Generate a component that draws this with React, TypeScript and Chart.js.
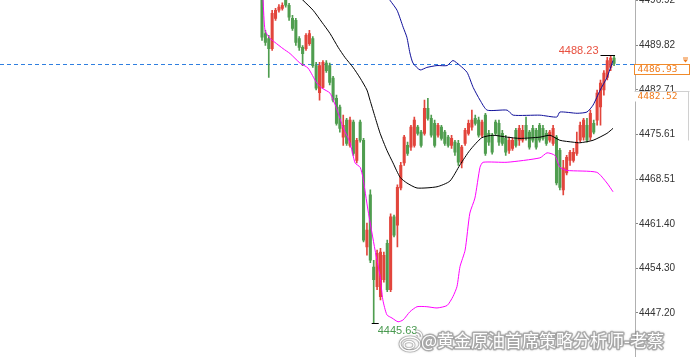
import React, { useEffect, useRef } from 'react';
import { Chart, registerables } from 'chart.js';

Chart.register(...registerables);

// ---- Candles (index 0..104) ----
const OPEN = [
  4497.8, 4491.7, 4490.9, 4489.3, 4494.1, 4495.4, 4495.7, 4497.0, 4496.2, 4494.1,
  4493.8, 4490.9, 4489.5, 4489.3, 4490.1, 4490.9, 4486.6, 4482.3, 4483.1, 4487.0,
  4486.6, 4484.6, 4481.4, 4480.0, 4475.2, 4477.9, 4473.9, 4477.6, 4471.5, 4477.6,
  4474.7, 4457.7, 4466.0, 4454.5, 4451.4, 4449.8, 4452.5, 4458.3, 4450.9, 4462.5,
  4461.2, 4467.1, 4471.1, 4473.9, 4473.6, 4473.9, 4476.8, 4476.0, 4475.8, 4479.8,
  4478.2, 4477.4, 4475.5, 4476.8, 4476.0, 4475.2, 4473.9, 4474.4, 4474.2, 4471.1,
  4474.2, 4475.8, 4476.8, 4478.2, 4477.9, 4475.5, 4478.7, 4475.8, 4475.5, 4477.6,
  4477.4, 4475.8, 4475.0, 4473.1, 4473.4, 4476.3, 4474.7, 4474.7, 4477.1, 4476.0,
  4476.6, 4476.3, 4477.1, 4476.6, 4475.8, 4474.7, 4474.2, 4475.2, 4473.1, 4466.8,
  4469.5, 4471.5, 4471.5, 4472.6, 4474.7, 4475.2, 4477.1, 4475.2, 4477.4, 4477.9,
  4480.0, 4482.7, 4484.7, 4486.3, 4487.8,
];
const HIGH = [
  4498.6, 4492.2, 4491.4, 4495.4, 4495.7, 4496.3, 4496.6, 4497.4, 4496.5, 4494.6,
  4494.1, 4491.2, 4489.8, 4491.7, 4492.2, 4491.2, 4487.1, 4487.1, 4487.4, 4487.4,
  4487.0, 4484.9, 4481.9, 4480.3, 4478.7, 4478.2, 4478.4, 4477.9, 4475.0, 4477.9,
  4475.0, 4461.5, 4466.8, 4455.6, 4457.2, 4457.5, 4456.9, 4458.8, 4463.0, 4462.8,
  4467.6, 4471.2, 4475.5, 4474.4, 4477.1, 4478.4, 4477.1, 4476.3, 4481.1, 4481.4,
  4478.7, 4477.9, 4477.4, 4477.1, 4476.3, 4475.5, 4475.5, 4474.7, 4474.7, 4473.9,
  4476.6, 4477.9, 4479.5, 4478.7, 4478.4, 4477.9, 4479.0, 4476.3, 4475.8, 4477.9,
  4477.9, 4476.3, 4475.5, 4475.2, 4475.0, 4476.6, 4477.1, 4477.1, 4478.4, 4476.3,
  4477.1, 4476.6, 4477.4, 4477.1, 4476.3, 4476.3, 4477.1, 4475.5, 4473.4, 4471.5,
  4472.3, 4473.1, 4473.4, 4476.0, 4477.6, 4478.2, 4478.2, 4479.5, 4477.9, 4482.7,
  4484.3, 4485.8, 4487.9, 4488.23, 4488.2,
];
const LOW = [
  4490.6, 4489.8, 4484.7, 4489.0, 4493.8, 4495.1, 4495.4, 4495.9, 4493.8, 4492.2,
  4489.8, 4489.0, 4486.6, 4489.0, 4489.8, 4486.3, 4482.7, 4481.1, 4483.0, 4485.5,
  4483.5, 4480.8, 4477.1, 4476.0, 4473.9, 4473.9, 4473.6, 4472.3, 4471.1, 4474.4,
  4458.5, 4456.4, 4455.2, 4445.63, 4450.9, 4449.3, 4452.1, 4450.6, 4450.6, 4459.3,
  4457.7, 4466.8, 4470.7, 4472.3, 4473.1, 4473.6, 4475.5, 4473.6, 4475.5, 4477.9,
  4475.2, 4473.6, 4475.2, 4474.7, 4473.9, 4473.6, 4473.4, 4472.3, 4470.7, 4470.3,
  4473.9, 4475.5, 4476.3, 4477.1, 4475.2, 4475.2, 4472.3, 4473.9, 4472.5, 4475.5,
  4473.9, 4473.9, 4472.3, 4472.6, 4473.1, 4473.6, 4473.9, 4474.4, 4474.7, 4473.3,
  4474.4, 4473.3, 4474.4, 4474.7, 4473.9, 4474.4, 4473.9, 4467.6, 4466.8, 4466.0,
  4469.2, 4470.7, 4471.2, 4472.3, 4474.4, 4474.7, 4474.4, 4474.7, 4475.7, 4477.1,
  4477.1, 4481.9, 4484.3, 4485.8, 4486.6,
];
const CLOSE = [
  4491.1, 4490.3, 4489.3, 4494.9, 4495.4, 4495.9, 4496.2, 4496.2, 4494.3, 4492.5,
  4490.3, 4489.5, 4488.5, 4491.4, 4491.7, 4486.6, 4483.0, 4486.6, 4487.1, 4485.8,
  4483.9, 4481.1, 4477.4, 4476.6, 4477.1, 4474.2, 4477.9, 4472.6, 4474.7, 4474.7,
  4458.8, 4460.4, 4455.6, 4452.5, 4456.7, 4456.9, 4456.4, 4450.9, 4462.5, 4459.6,
  4467.2, 4470.7, 4475.2, 4472.6, 4476.8, 4477.9, 4475.8, 4473.9, 4479.8, 4478.2,
  4475.5, 4473.9, 4477.1, 4475.0, 4474.2, 4473.9, 4475.0, 4472.8, 4471.2, 4473.6,
  4476.3, 4477.4, 4477.9, 4477.4, 4475.5, 4477.6, 4472.6, 4474.4, 4472.8, 4475.8,
  4474.4, 4474.2, 4472.8, 4474.7, 4474.7, 4473.9, 4476.6, 4476.3, 4475.2, 4473.6,
  4474.7, 4473.6, 4474.7, 4475.0, 4474.2, 4476.0, 4476.6, 4467.9, 4467.2, 4470.3,
  4472.0, 4472.8, 4472.8, 4474.4, 4477.1, 4477.9, 4474.7, 4479.0, 4476.0, 4482.2,
  4483.8, 4485.4, 4487.4, 4487.8, 4486.93,
];

// ---- Bollinger bands, [candle index, price] ----
const BOLL_UPPER: [number, number][] = [
  [0, 4526.0], [37.8, 4497.0], [39.9, 4495.4], [41.7, 4492.7], [42.8, 4491.1], [43.7, 4488.6],
  [44.6, 4487.0], [46.7, 4485.9], [48.7, 4486.3], [51.7, 4486.6], [54.7, 4486.6], [56.4, 4487.4],
  [58.5, 4486.6], [60.6, 4485.5], [62.4, 4483.1], [64.4, 4481.1], [66.5, 4479.5], [72.4, 4479.5],
  [74.2, 4478.7], [82.1, 4478.7], [87.1, 4478.4], [88.0, 4479.2], [93.1, 4479.0], [96.0, 4479.2],
  [97.8, 4480.3], [99.9, 4482.7], [101.9, 4484.7], [103.7, 4487.4],
];
const BOLL_MID: [number, number][] = [
  [0, 4503.3], [12.1, 4497.0], [15.1, 4495.4], [17.7, 4493.5], [20.1, 4491.7], [22.5, 4489.5],
  [24.5, 4487.9], [26.9, 4486.3], [29.0, 4484.6], [31.0, 4482.7], [31.9, 4481.1], [33.4, 4478.4],
  [34.9, 4475.8], [36.9, 4473.1], [38.7, 4471.1], [40.8, 4468.8], [42.8, 4467.9], [45.8, 4467.1],
  [51.7, 4467.3], [55.5, 4468.2], [58.5, 4470.8], [61.4, 4473.1], [64.9, 4475.1], [68.2, 4475.5],
  [72.4, 4475.2], [76.2, 4475.0], [82.1, 4475.2], [85.1, 4475.5], [88.0, 4474.7], [91.9, 4474.4],
  [93.9, 4474.3], [97.8, 4474.7], [101.9, 4475.8], [103.7, 4476.6],
];
const BOLL_LOWER: [number, number][] = [
  [0, 4497.8], [0.3, 4497.0], [0.9, 4492.2], [2.4, 4490.9], [3.8, 4490.3], [6.2, 4489.3],
  [8.3, 4488.5], [11.2, 4487.0], [13.6, 4486.2], [16.2, 4483.8], [17.7, 4483.0], [20.1, 4482.2],
  [22.2, 4479.5], [23.9, 4476.8], [26.0, 4474.3], [27.5, 4471.1], [29.0, 4470.4], [29.8, 4468.8],
  [31.3, 4463.6], [33.4, 4457.2], [34.9, 4453.0], [35.7, 4449.3], [36.9, 4446.9], [38.4, 4446.4],
  [40.2, 4445.8], [41.7, 4446.1], [43.7, 4447.4], [45.8, 4448.2], [48.7, 4448.2], [51.7, 4448.0],
  [54.7, 4448.4], [56.4, 4449.8], [57.6, 4451.4], [58.5, 4454.6], [60.0, 4457.2], [61.4, 4463.1],
  [62.9, 4465.5], [64.4, 4470.4], [65.3, 4471.2], [72.4, 4471.2], [82.1, 4471.9], [84.2, 4472.7],
  [86.5, 4472.3], [88.0, 4470.4], [90.1, 4469.9], [98.9, 4469.6], [101.9, 4467.9], [103.7, 4466.5],
];

// ---- Axis ticks and markers ----
const Y_TICKS = [4447.20, 4454.30, 4461.40, 4468.51, 4475.61, 4482.71, 4489.82, 4496.92];
const LAST_PRICE = 4486.93;
const REF_PRICE = 4482.52;
const HIGH_MARK = 4488.23;
const HIGH_INDEX = 103;
const LOW_MARK = 4445.63;
const LOW_INDEX = 33;
const WATERMARK = '@黄金原油首席策略分析师-老蔡';

const UP = '#e2453c';
const DOWN = '#4f9d4f';
const OFFSET = 30; // canvas is shifted up so the top tick is clipped like the source

const idx = OPEN.map((_, i) => i);
const colors = idx.map((i) => (CLOSE[i] >= OPEN[i] ? UP : DOWN));

const overlay = {
  id: 'overlay',
  beforeDatasetsDraw(chart: any) {
    const { ctx, chartArea, scales } = chart;
    const py = Math.round(scales.y.getPixelForValue(LAST_PRICE)) + 1.5;
    ctx.save();
    ctx.strokeStyle = '#2f7fe0';
    ctx.lineWidth = 1;
    ctx.setLineDash([4, 3]);
    ctx.beginPath();
    ctx.moveTo(chartArea.left, py);
    ctx.lineTo(chartArea.right, py);
    ctx.stroke();
    ctx.restore();
  },
  afterDraw(chart: any) {
    const { ctx, chartArea, scales, width } = chart;
    const xs = scales.x;
    const ys = scales.y;
    ctx.save();

    // high marker
    const yh = Math.round(ys.getPixelForValue(HIGH_MARK)) + 0.5;
    const xh0 = xs.getPixelForValue(HIGH_INDEX - 3);
    const xh1 = xs.getPixelForValue(HIGH_INDEX + 1) + 1;
    ctx.strokeStyle = '#000';
    ctx.lineWidth = 1;
    ctx.beginPath();
    ctx.moveTo(xh0, yh);
    ctx.lineTo(xh1, yh);
    ctx.stroke();
    ctx.font = '11px Arial, "Liberation Sans", sans-serif';
    ctx.fillStyle = '#e8503f';
    ctx.textAlign = 'right';
    ctx.textBaseline = 'alphabetic';
    ctx.fillText(HIGH_MARK.toFixed(2), xh0 - 2, yh - 2);

    // low marker
    const yl = Math.round(ys.getPixelForValue(LOW_MARK)) + 0.5;
    const xl = xs.getPixelForValue(LOW_INDEX);
    ctx.beginPath();
    ctx.moveTo(xl - 2, yl);
    ctx.lineTo(xl + 5, yl);
    ctx.stroke();
    ctx.fillStyle = '#4a9a50';
    ctx.textAlign = 'left';
    ctx.textBaseline = 'top';
    ctx.fillText(LOW_MARK.toFixed(2), xl + 4, yl + 2);

    // current price box on axis
    const py = Math.round(ys.getPixelForValue(LAST_PRICE)) + 1.5;
    const bx0 = chartArea.right - 0.5;
    const bx1 = width - 0.5;
    ctx.fillStyle = '#fff';
    ctx.fillRect(bx0, py, bx1 - bx0, 10);
    ctx.strokeStyle = '#f08a2a';
    ctx.strokeRect(bx0, py, bx1 - bx0, 10);
    ctx.fillStyle = '#f07a1a';
    ctx.font = '9.5px "DejaVu Sans Mono", monospace';
    ctx.textAlign = 'left';
    ctx.textBaseline = 'middle';
    ctx.fillText(LAST_PRICE.toFixed(2), bx0 + 3, py + 5.5);
    // small icon above box
    ctx.strokeStyle = '#f07a1a';
    ctx.fillStyle = '#f07a1a';
    ctx.beginPath();
    ctx.moveTo(width - 7, py - 6.5);
    ctx.lineTo(width - 2, py - 6.5);
    ctx.stroke();
    ctx.beginPath();
    ctx.moveTo(width - 7, py - 5);
    ctx.lineTo(width - 2, py - 5);
    ctx.lineTo(width - 4.5, py - 2);
    ctx.closePath();
    ctx.fill();

    // reference price box
    const ry = Math.round(ys.getPixelForValue(REF_PRICE)) + 0.5;
    ctx.fillStyle = '#fff';
    ctx.fillRect(bx0 + 0.5, ry, bx1 - bx0 - 1, 10);
    ctx.strokeStyle = '#d0d0d0';
    ctx.beginPath();
    ctx.moveTo(bx0, ry);
    ctx.lineTo(bx1, ry);
    ctx.moveTo(bx1 - 1, ry);
    ctx.lineTo(bx1 - 1, ry + 49);
    ctx.stroke();
    ctx.fillStyle = '#f07a1a';
    ctx.fillText(REF_PRICE.toFixed(2), bx0 + 3, ry + 5);

    // watermark logo (halo then white fill)
    const wy = 341 + OFFSET;
    const drawLogo = (fill: boolean) => {
      ctx.beginPath();
      ctx.ellipse(410, wy + 3, 10, 7, 0, 0, Math.PI * 2);
      if (fill) ctx.fill();
      ctx.stroke();
      ctx.beginPath();
      ctx.ellipse(409, wy + 4, 5, 3.5, 0, 0, Math.PI * 2);
      ctx.stroke();
      ctx.beginPath();
      ctx.arc(416, wy - 4, 6, -Math.PI / 2, 0);
      ctx.stroke();
      ctx.beginPath();
      ctx.arc(416, wy - 4, 3, -Math.PI / 2, 0);
      ctx.stroke();
    };
    ctx.shadowColor = 'rgba(0,0,0,0.35)';
    ctx.shadowBlur = 2;
    ctx.lineWidth = 3;
    ctx.strokeStyle = 'rgba(150,150,150,0.55)';
    ctx.fillStyle = '#fff';
    drawLogo(true);
    ctx.shadowBlur = 0;
    ctx.lineWidth = 1.3;
    ctx.strokeStyle = '#ffffff';
    drawLogo(false);

    // watermark text
    ctx.font = '17px "Noto Sans CJK SC", sans-serif';
    ctx.textAlign = 'left';
    ctx.textBaseline = 'middle';
    ctx.lineJoin = 'round';
    ctx.shadowColor = 'rgba(0,0,0,0.3)';
    ctx.shadowBlur = 2;
    ctx.lineWidth = 3;
    ctx.strokeStyle = 'rgba(140,140,140,0.6)';
    ctx.strokeText(WATERMARK, 421, wy);
    ctx.shadowBlur = 0;
    ctx.fillStyle = '#ffffff';
    ctx.fillText(WATERMARK, 421, wy);
    ctx.restore();
  },
};

export default function App() {
  const ref = useRef<HTMLCanvasElement | null>(null);

  useEffect(() => {
    if (!ref.current) return;
    const chart = new Chart(ref.current, {
      type: 'bar',
      data: {
        datasets: [
          {
            type: 'line',
            data: BOLL_UPPER.map(([x, y]) => ({ x, y })),
            borderColor: '#10109a',
            borderWidth: 1,
            pointRadius: 0,
            tension: 0.2,
            order: 1,
          } as any,
          {
            type: 'line',
            data: BOLL_MID.map(([x, y]) => ({ x, y })),
            borderColor: '#000000',
            borderWidth: 1,
            pointRadius: 0,
            tension: 0.2,
            order: 1,
          } as any,
          {
            type: 'line',
            data: BOLL_LOWER.map(([x, y]) => ({ x, y })),
            borderColor: '#ff00ff',
            borderWidth: 1,
            pointRadius: 0,
            tension: 0.2,
            order: 1,
          } as any,
          {
            type: 'bar',
            data: idx.map((i) => ({ x: i, y: [LOW[i], HIGH[i]] })),
            backgroundColor: colors,
            barThickness: 1,
            grouped: false,
            order: 3,
          } as any,
          {
            type: 'bar',
            data: idx.map((i) => ({ x: i, y: [OPEN[i], CLOSE[i]] })),
            backgroundColor: colors,
            barThickness: 2.4,
            minBarLength: 1,
            grouped: false,
            order: 2,
          } as any,
        ],
      },
      options: {
        animation: false,
        responsive: false,
        devicePixelRatio: 1,
        layout: { padding: { top: 11.4, bottom: 11.8, left: 0, right: 0 } },
        plugins: {
          legend: { display: false },
          tooltip: { enabled: false },
        },
        scales: {
          x: {
            type: 'linear',
            display: false,
            offset: false,
            min: -77.4,
            max: 110.19,
          },
          y: {
            position: 'right',
            min: 4440,
            max: 4500,
            afterBuildTicks: (scale: any) => {
              scale.ticks = Y_TICKS.map((v) => ({ value: v }));
            },
            afterFit: (scale: any) => {
              scale.width = 55;
            },
            grid: {
              display: true,
              drawOnChartArea: false,
              drawTicks: true,
              tickLength: 3,
              color: '#888',
            },
            border: { display: true, color: '#b0b0b0', width: 1, dash: [1, 6] },
            ticks: {
              color: '#333',
              padding: 1,
              font: { family: 'Arial, "Liberation Sans", sans-serif', size: 10 },
              callback: (v: any) => Number(v).toFixed(2),
            },
          },
        },
      } as any,
      plugins: [overlay],
    });
    return () => chart.destroy();
  }, []);

  return (
    <div style={{ position: 'fixed', left: 0, top: -OFFSET, width: 690, height: 400, background: '#fff' }}>
      <canvas ref={ref} width={690} height={400} style={{ width: 690, height: 400, display: 'block' }} />
    </div>
  );
}
